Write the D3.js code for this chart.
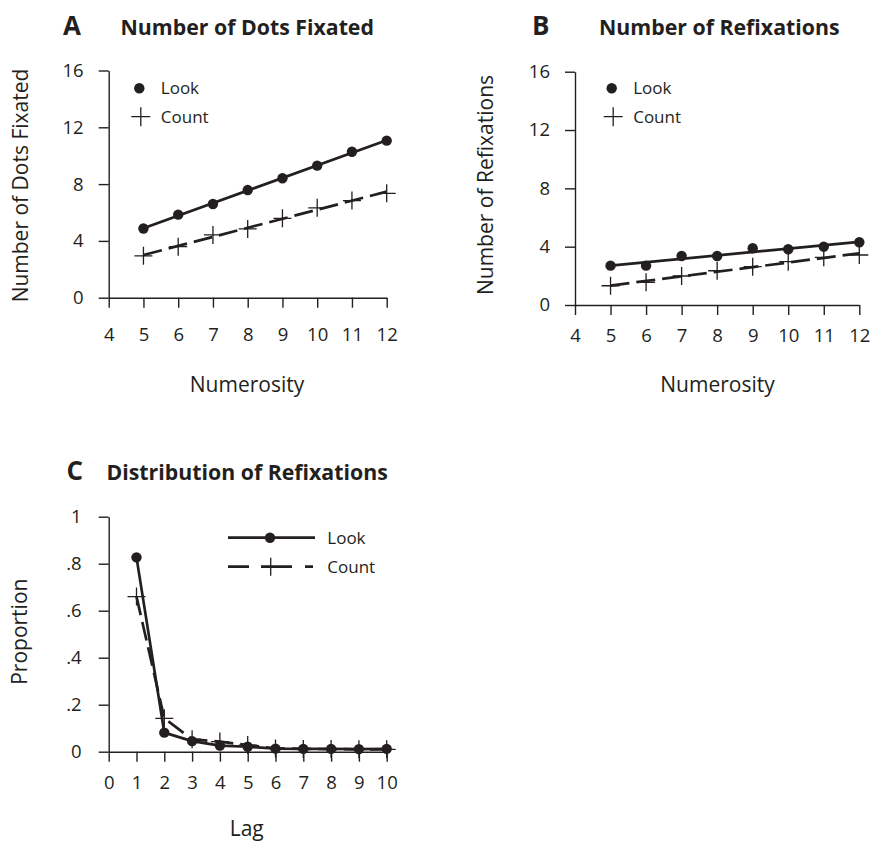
<!DOCTYPE html>
<html><head><meta charset="utf-8">
<script src="https://cdn.jsdelivr.net/npm/d3@7"></script>
<style>
body{margin:0;background:#fff}
text{font-family:'Open Sans',sans-serif;fill:#231f20}
</style>
</head><body>
<svg id="chart" width="870" height="843"></svg>
<script>
// ---- data ----
const numerosity = [5, 6, 7, 8, 9, 10, 11, 12];
const dotsFixatedLook  = [4.87, 5.85, 6.6, 7.58, 8.41, 9.3, 10.28, 11.06];
const dotsFixatedCount = [2.95, 3.59, 4.42, 4.84, 5.59, 6.33, 6.84, 7.35];
const refixLook  = [2.7, 2.7, 3.36, 3.36, 3.89, 3.82, 4.0, 4.3];
const refixCount = [1.32, 1.56, 1.99, 2.35, 2.63, 2.97, 3.27, 3.43];
const lags = [1, 2, 3, 4, 5, 6, 7, 8, 9, 10];
const lagLook  = [0.827, 0.081, 0.045, 0.026, 0.021, 0.013, 0.012, 0.012, 0.011, 0.012];
const lagCount = [0.66, 0.142, 0.053, 0.043, 0.028, 0.014, 0.012, 0.011, 0.010, 0.010];
const numerosityTicks = [4, 5, 6, 7, 8, 9, 10, 11, 12];
const countTicks = [0, 4, 8, 12, 16];
const lagTicks = [0, 1, 2, 3, 4, 5, 6, 7, 8, 9, 10];
const propTicks = [0, 0.2, 0.4, 0.6, 0.8, 1];
const propTickLabels = ["0", ".2", ".4", ".6", ".8", "1"];
const seriesNames = ["Look", "Count"];

const INK = "#231f20";
const DASH = "19,7";
const svg = d3.select("#chart");

function crossPath(cx, cy, s) {
  return `M${cx - s},${cy}H${cx + s}M${cx},${cy - s}V${cy + s}`;
}
function fit(xs, ys) {
  const mx = d3.mean(xs), my = d3.mean(ys);
  const b = d3.sum(xs, (x, i) => (x - mx) * (ys[i] - my)) / d3.sum(xs, x => (x - mx) * (x - mx));
  return x => my + b * (x - mx);
}

function axes(g, x, y, o) {
  const ya = g.append("g").attr("transform", `translate(${x.range()[0]},0)`)
    .call(d3.axisLeft(y).tickValues(o.yTicks).tickSize(10).tickSizeOuter(0)
      .tickPadding(o.yPad).tickFormat(o.yFmt));
  const xa = g.append("g").attr("transform", `translate(0,${y.range()[0]})`)
    .call(d3.axisBottom(x).tickValues(o.xTicks).tickSize(10).tickSizeOuter(0)
      .tickPadding(o.xPad).tickFormat(d3.format("d")));
  [ya, xa].forEach(a => {
    a.selectAll("path,line").attr("stroke", INK).attr("stroke-width", 1.4);
    a.selectAll("text").attr("font-size", 18.5).attr("fill", INK)
      .style("font-family", "'Open Sans',sans-serif");
  });
}

function titles(o) {
  svg.append("text").attr("x", o.letterX).attr("y", o.titleY).attr("font-size", 26)
    .attr("font-weight", 700).text(o.letter);
  svg.append("text").attr("x", o.titleX).attr("y", o.titleY).attr("font-size", 21.3)
    .attr("font-weight", 700).text(o.title);
  svg.append("text").attr("transform", `translate(${o.yLabX},${o.yLabY}) rotate(-90)`)
    .attr("text-anchor", "middle").attr("font-size", 21).text(o.yLab);
  svg.append("text").attr("x", o.xLabX).attr("y", o.xLabY)
    .attr("text-anchor", "middle").attr("font-size", 21).text(o.xLab);
}

function regressionPanel(o) {
  const g = svg.append("g");
  const x = d3.scaleLinear().domain([4, 12]).range(o.xr);
  const y = d3.scaleLinear().domain([0, 16]).range(o.yr);
  axes(g, x, y, {yTicks: countTicks, xTicks: numerosityTicks, yPad: 15, xPad: o.xPad, yFmt: d3.format("d")});
  const ends = [numerosity[0], numerosity[numerosity.length - 1]];
  const fl = fit(numerosity, o.look), fc = fit(numerosity, o.count);
  const line = d3.line().x(d => x(d[0])).y(d => y(d[1]));
  g.append("path").attr("d", line(ends.map(v => [v, fl(v)])))
    .attr("fill", "none").attr("stroke", INK).attr("stroke-width", 2.7);
  g.append("path").attr("d", line(ends.map(v => [v, fc(v)])))
    .attr("fill", "none").attr("stroke", INK).attr("stroke-width", 2.7).attr("stroke-dasharray", DASH);
  g.selectAll(".dot").data(numerosity).join("circle")
    .attr("cx", d => x(d)).attr("cy", (d, i) => y(o.look[i])).attr("r", 5.2).attr("fill", INK);
  g.selectAll(".cr").data(numerosity).join("path")
    .attr("d", (d, i) => crossPath(x(d), y(o.count[i]), 9))
    .attr("stroke", INK).attr("stroke-width", 1.3).attr("fill", "none");
  // legend
  const lg = svg.append("g");
  lg.append("circle").attr("cx", o.legX).attr("cy", o.legY).attr("r", 5.2).attr("fill", INK);
  lg.append("path").attr("d", crossPath(o.legX + 1.5, o.legY + 28.4, 9.5))
    .attr("stroke", INK).attr("stroke-width", 1.3);
  seriesNames.forEach((s, i) => {
    lg.append("text").attr("x", o.legX + 21.5).attr("y", o.legY + i * 28.4)
      .attr("dy", "0.35em").attr("font-size", 17).text(s);
  });
  titles(o);
}

regressionPanel({
  xr: [108.7, 386.7], yr: [297.7, 70.5], xPad: 20,
  look: dotsFixatedLook, count: dotsFixatedCount,
  legX: 139.3, legY: 88.3,
  letter: "A", letterX: 63, title: "Number of Dots Fixated", titleX: 120.5, titleY: 35,
  yLab: "Number of Dots Fixated", yLabX: 28, yLabY: 185.5,
  xLab: "Numerosity", xLabX: 247, xLabY: 391.5
});
regressionPanel({
  xr: [575, 859.3], yr: [305, 71.7], xPad: 14,
  look: refixLook, count: refixCount,
  legX: 611.7, legY: 88.3,
  letter: "B", letterX: 532, title: "Number of Refixations", titleX: 599, titleY: 35,
  yLab: "Number of Refixations", yLabX: 493, yLabY: 185,
  xLab: "Numerosity", xLabX: 717.5, xLabY: 391.5
});

// Panel C
(function () {
  const g = svg.append("g");
  const x = d3.scaleLinear().domain([0, 10]).range([108.7, 386.7]);
  const y = d3.scaleLinear().domain([0, 1]).range([751.7, 516.7]);
  axes(g, x, y, {yTicks: propTicks, xTicks: lagTicks, yPad: 17, xPad: 14,
    yFmt: (d, i) => propTickLabels[i]});
  const line = d3.line().x((d, i) => x(lags[i])).y(d => y(d));
  g.append("path").attr("d", line(lagCount)).attr("fill", "none").attr("stroke", INK)
    .attr("stroke-width", 2.7).attr("stroke-dasharray", DASH);
  g.append("path").attr("d", line(lagLook)).attr("fill", "none").attr("stroke", INK)
    .attr("stroke-width", 2.7);
  g.selectAll(".cr").data(lags).join("path")
    .attr("d", (d, i) => crossPath(x(d), y(lagCount[i]), 9))
    .attr("stroke", INK).attr("stroke-width", 1.3).attr("fill", "none");
  g.selectAll(".dot").data(lags).join("circle")
    .attr("cx", d => x(d)).attr("cy", (d, i) => y(lagLook[i])).attr("r", 5.2).attr("fill", INK);
  // legend
  const lg = svg.append("g");
  lg.append("line").attr("x1", 228).attr("x2", 315).attr("y1", 537.7).attr("y2", 537.7)
    .attr("stroke", INK).attr("stroke-width", 2.7);
  lg.append("circle").attr("cx", 270).attr("cy", 537.7).attr("r", 5.2).attr("fill", INK);
  lg.append("line").attr("x1", 228).attr("x2", 315).attr("y1", 566.7).attr("y2", 566.7)
    .attr("stroke", INK).attr("stroke-width", 2.7).attr("stroke-dasharray", "21,12,31,13,8");
  lg.append("path").attr("d", crossPath(270.7, 566.7, 9)).attr("stroke", INK).attr("stroke-width", 1.3);
  seriesNames.forEach((s, i) => {
    lg.append("text").attr("x", 327.3).attr("y", 537.7 + i * 29).attr("dy", "0.35em")
      .attr("font-size", 17).text(s);
  });
  titles({
    letter: "C", letterX: 66.5, title: "Distribution of Refixations", titleX: 106.5, titleY: 480,
    yLab: "Proportion", yLabX: 27, yLabY: 631.7,
    xLab: "Lag", xLabX: 246.7, xLabY: 836
  });
})();
</script>
</body></html>
